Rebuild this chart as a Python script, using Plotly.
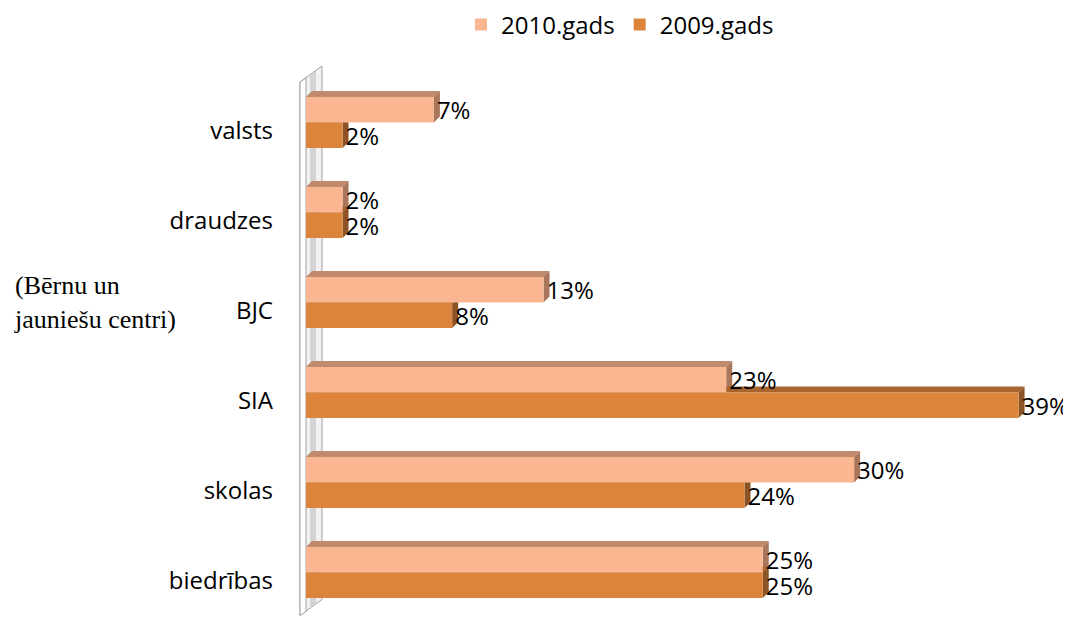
import plotly.graph_objects as go

# data
categories = ["valsts", "draudzes", "BJC", "SIA", "skolas", "biedrības"]
y2010 = [7, 2, 13, 23, 30, 25]
y2009 = [2, 2, 8, 39, 24, 25]
labels_2010 = ["7%", "2%", "13%", "23%", "30%", "25%"]
labels_2009 = ["2%", "2%", "8%", "39%", "24%", "25%"]

c2010 = "#FAB591"
c2009 = "#DC843C"
top2010, side2010 = "#C08A6C", "#A8765A"
top2009, side2009 = "#A8652E", "#8C5426"

# page body has an 8px margin, so shift everything by that
OFF = 8
W, H = 1071, 618
L, R, T, B = 306 - OFF, 15 + OFF, 55 - OFF, 4.5 + OFF
xmax = 41.05
yrange = [5.45, -0.75]
bargap = 0.434

pos = list(range(len(categories)))
font = "Open Sans"

fig = go.Figure()
fig.add_trace(go.Bar(y=pos, x=y2010, orientation="h", name="2010.gads",
                     marker=dict(color=c2010, line=dict(width=0)),
                     text=labels_2010, textposition="outside", cliponaxis=False,
                     constraintext="none",
                     textfont=dict(size=24, color="black")))
fig.add_trace(go.Bar(y=pos, x=y2009, orientation="h", name="2009.gads",
                     marker=dict(color=c2009, line=dict(width=0)),
                     text=labels_2009, textposition="outside", cliponaxis=False,
                     constraintext="none",
                     textfont=dict(size=24, color="black")))

# pseudo-3D faces
pw = W - L - R
ph = H - T - B
dx = 6 * xmax / pw
dy = 6 * (yrange[0] - yrange[1]) / ph
bw = (1 - bargap) / 2
shapes = []


def px2paper(px, py):
    # px, py are screenshot pixels
    return (px - OFF - L) / pw, (H - B - (py - OFF)) / ph


def poly(pts):
    return "M " + " L ".join(f"{a},{b}" for a, b in pts) + " Z"


wall = [px2paper(300, 82), px2paper(322, 66), px2paper(322, 600), px2paper(300, 616)]
shapes.append(dict(type="path", xref="paper", yref="paper", layer="below",
                   path=poly(wall), fillcolor="#F2F2F2", line=dict(color="#A0A0A0", width=1)))
band = [px2paper(310, 76), px2paper(316, 71), px2paper(316, 604), px2paper(310, 609)]
shapes.append(dict(type="path", xref="paper", yref="paper", layer="below",
                   path=poly(band), fillcolor="#D4D4D4", line=dict(width=0)))
edge = [px2paper(300, 82), px2paper(306, 78), px2paper(306, 612), px2paper(300, 616)]
shapes.append(dict(type="path", xref="paper", yref="paper", layer="below",
                   path=poly(edge), fillcolor="#FFFFFF", line=dict(color="#A0A0A0", width=1)))

for vals, off, top, side in [(y2010, -bw, top2010, side2010), (y2009, 0, top2009, side2009)]:
    for i, v in zip(pos, vals):
        y0 = i + off
        y1 = y0 + bw
        shapes.append(dict(type="path", xref="x", yref="y", layer="below",
                           path=f"M 0,{y0} L {v},{y0} L {v+dx},{y0-dy} L {dx},{y0-dy} Z",
                           fillcolor=top, line=dict(width=0)))
        shapes.append(dict(type="path", xref="x", yref="y", layer="below",
                           path=f"M {v},{y0} L {v+dx},{y0-dy} L {v+dx},{y1-dy} L {v},{y1} Z",
                           fillcolor=side, line=dict(width=0)))

lx, _ = px2paper(620, 0)
fig.update_layout(
    width=W, height=H,
    margin=dict(l=L, r=R, t=T, b=B, autoexpand=False),
    barmode="group", bargap=bargap, bargroupgap=0,
    plot_bgcolor="white", paper_bgcolor="white",
    font=dict(family=font, size=24, color="black"),
    shapes=shapes,
    showlegend=True,
    legend=dict(orientation="h", x=lx, xanchor="center",
                yref="container", y=1 - (25 - OFF) / H, yanchor="middle",
                font=dict(size=24), itemwidth=30, traceorder="normal"),
)
fig.update_xaxes(range=[0, xmax], showgrid=False, showticklabels=False, zeroline=False,
                 showline=False)
fig.update_yaxes(range=yrange, tickvals=pos, ticktext=categories, showgrid=False,
                 zeroline=False, showline=False, ticks="", ticklabelstandoff=32,
                 ticklabelshift=-8)

ax, _ = px2paper(12, 0)
fig.add_annotation(text="(Bērnu un<br>jauniešu centri)", xref="paper", yref="y",
                   x=ax, y=2, yshift=0, xanchor="left", yanchor="middle",
                   align="left", showarrow=False,
                   font=dict(family="Liberation Serif", size=26, color="black"))

fig.write_html("out.html")
